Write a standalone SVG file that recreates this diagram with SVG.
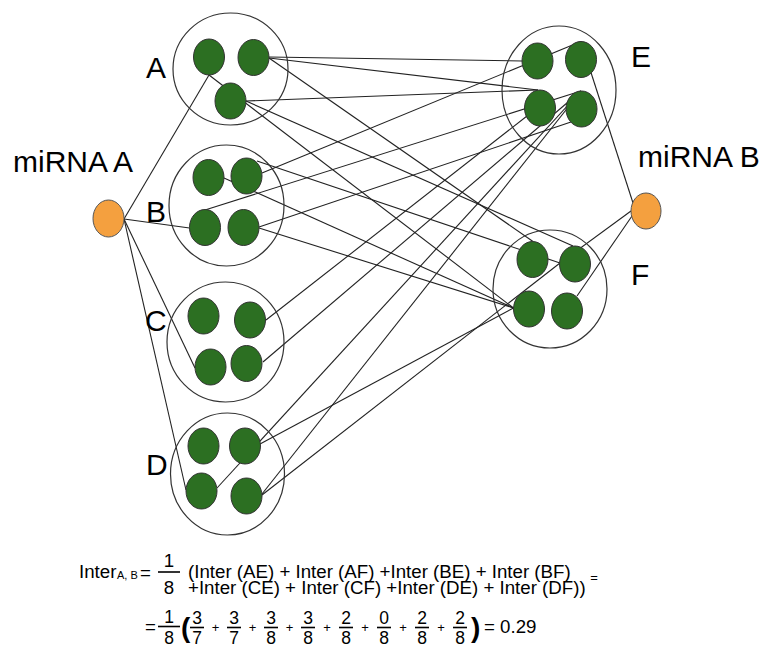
<svg xmlns="http://www.w3.org/2000/svg" width="769" height="645" viewBox="0 0 769 645">
  <style>
    .hub { fill: none; stroke: #333; stroke-width: 1.2; }
    .gene { fill: #2c6f22; stroke: #333; stroke-width: 1; }
    .mirna { fill: #f4a03f; stroke: #555; stroke-width: 1; }
    .edge { stroke: #222; stroke-width: 1.1; fill: none; }
    .lbl { font-family: "Liberation Sans", Arial, sans-serif; font-size: 30px; fill: #000; }
    .eq { font-family: "Liberation Sans", Arial, sans-serif; font-size: 18.7px; fill: #000; }
    .sm { font-family: "Liberation Sans", Arial, sans-serif; font-size: 11px; fill: #000; }
    .fr { font-family: "Liberation Sans", Arial, sans-serif; font-size: 17.5px; fill: #000; text-anchor: middle; }
    .fr1 { font-family: "Liberation Sans", Arial, sans-serif; font-size: 18.7px; fill: #000; text-anchor: middle; }
    .pl { font-family: "Liberation Sans", Arial, sans-serif; font-size: 13px; fill: #000; text-anchor: middle; }
    .par { font-family: "Liberation Sans", Arial, sans-serif; font-size: 28px; font-weight: bold; fill: #000; }
    .bar { stroke: #000; stroke-width: 1.6; }
  </style>

  <!-- connectors -->
  <g id="connectors">
    <!-- miRNA A to its targets -->
    <line class="edge" x1="124" y1="219" x2="209" y2="75"/>
    <line class="edge" x1="124" y1="219" x2="189.5" y2="228"/>
    <line class="edge" x1="124" y1="219" x2="195" y2="368"/>
    <line class="edge" x1="124" y1="219" x2="186" y2="490"/>
    <!-- miRNA B to its targets -->
    <line class="edge" x1="633" y1="203" x2="581" y2="41.5"/>
    <line class="edge" x1="631" y1="211" x2="560" y2="263"/>
    <line class="edge" x1="632" y1="216" x2="577" y2="296"/>
    <!-- A to E -->
    <line class="edge" x1="269" y1="57" x2="522" y2="61"/>
    <line class="edge" x1="269" y1="58" x2="538" y2="90"/>
    <line class="edge" x1="246" y1="101" x2="538" y2="90"/>
    <!-- A to F -->
    <line class="edge" x1="269" y1="58" x2="533" y2="241.5"/>
    <line class="edge" x1="209" y1="75" x2="513.5" y2="308"/>
    <line class="edge" x1="246" y1="101" x2="573" y2="246"/>
    <!-- B to E -->
    <line class="edge" x1="262" y1="173" x2="581" y2="41.5"/>
    <line class="edge" x1="205" y1="210" x2="581" y2="91"/>
    <line class="edge" x1="259" y1="227" x2="571" y2="122"/>
    <!-- B to F -->
    <line class="edge" x1="224" y1="178" x2="513.5" y2="308"/>
    <line class="edge" x1="257" y1="161" x2="560" y2="263"/>
    <line class="edge" x1="259" y1="228" x2="513.5" y2="308"/>
    <!-- C to E -->
    <line class="edge" x1="266" y1="320" x2="527" y2="116"/>
    <line class="edge" x1="263" y1="362" x2="581" y2="91"/>
    <!-- D to E -->
    <line class="edge" x1="217" y1="488" x2="581" y2="91"/>
    <line class="edge" x1="262" y1="494" x2="581" y2="91"/>
    <!-- D to F -->
    <line class="edge" x1="260" y1="444" x2="513.5" y2="308"/>
    <line class="edge" x1="262" y1="495" x2="560" y2="263"/>
  </g>

  <!-- miRNA nodes -->
  <g id="mirnaA">
    <ellipse class="mirna" cx="108.5" cy="218.5" rx="15.5" ry="18.5"/>
    <text class="lbl" x="13" y="172">miRNA A</text>
  </g>
  <g id="mirnaB">
    <ellipse class="mirna" cx="646" cy="211" rx="15" ry="18"/>
    <text class="lbl" x="638" y="167">miRNA B</text>
  </g>

  <!-- target clusters -->
  <g id="clusterA">
    <ellipse class="hub" cx="230.5" cy="69" rx="57.5" ry="56"/>
    <ellipse class="gene" cx="209" cy="57" rx="15.5" ry="18"/>
    <ellipse class="gene" cx="253.5" cy="57.5" rx="15.5" ry="18"/>
    <ellipse class="gene" cx="230.5" cy="101" rx="15.5" ry="18"/>
    <text class="lbl" x="146" y="78">A</text>
  </g>
  <g id="clusterB">
    <ellipse class="hub" cx="226.5" cy="205.5" rx="57.5" ry="60.5"/>
    <ellipse class="gene" cx="208.5" cy="177.5" rx="15.5" ry="18"/>
    <ellipse class="gene" cx="246.5" cy="176" rx="15.5" ry="18"/>
    <ellipse class="gene" cx="205" cy="227.5" rx="15.5" ry="18"/>
    <ellipse class="gene" cx="243.5" cy="227.5" rx="15.5" ry="18"/>
    <text class="lbl" x="146" y="222">B</text>
  </g>
  <g id="clusterC">
    <ellipse class="hub" cx="225.5" cy="342" rx="58.5" ry="60"/>
    <ellipse class="gene" cx="203.5" cy="316" rx="15.5" ry="18"/>
    <ellipse class="gene" cx="250" cy="320" rx="15.5" ry="18"/>
    <ellipse class="gene" cx="210.5" cy="367" rx="15.5" ry="18"/>
    <ellipse class="gene" cx="246.5" cy="363.5" rx="15.5" ry="18"/>
    <text class="lbl" x="145" y="331">C</text>
  </g>
  <g id="clusterD">
    <ellipse class="hub" cx="227.5" cy="474" rx="57" ry="61"/>
    <ellipse class="gene" cx="203.5" cy="446" rx="15.5" ry="18"/>
    <ellipse class="gene" cx="245" cy="446" rx="15.5" ry="18"/>
    <ellipse class="gene" cx="201.5" cy="491" rx="15.5" ry="18"/>
    <ellipse class="gene" cx="246.5" cy="496" rx="15.5" ry="18"/>
    <text class="lbl" x="146" y="475">D</text>
  </g>
  <g id="clusterE">
    <ellipse class="hub" cx="559" cy="90" rx="57" ry="64"/>
    <ellipse class="gene" cx="537.5" cy="61" rx="15.5" ry="18"/>
    <ellipse class="gene" cx="581" cy="59.5" rx="15.5" ry="18"/>
    <ellipse class="gene" cx="540" cy="108" rx="15.5" ry="18"/>
    <ellipse class="gene" cx="581.5" cy="109" rx="15.5" ry="18"/>
    <text class="lbl" x="631" y="67">E</text>
  </g>
  <g id="clusterF">
    <ellipse class="hub" cx="550" cy="289" rx="57" ry="59"/>
    <ellipse class="gene" cx="532.5" cy="259.5" rx="15.5" ry="18"/>
    <ellipse class="gene" cx="575" cy="264" rx="15.5" ry="18"/>
    <ellipse class="gene" cx="529" cy="309" rx="15.5" ry="18"/>
    <ellipse class="gene" cx="567" cy="311" rx="15.5" ry="18"/>
    <text class="lbl" x="631" y="285">F</text>
  </g>

  <!-- interaction score formula -->
  <g id="formula">
    <text class="eq" x="79" y="578">Inter</text>
    <text class="sm" x="117" y="579">A, B</text>
    <text class="eq" x="140" y="579">=</text>
    <text class="fr1" x="169" y="567">1</text>
    <line class="bar" x1="158" y1="572" x2="180" y2="572"/>
    <text class="fr1" x="169" y="593.5">8</text>
    <text class="eq" x="188" y="578">(Inter (AE) + Inter (AF) +Inter (BE) + Inter (BF)</text>
    <text class="pl" x="594" y="582">=</text>
    <text class="eq" x="188" y="594">+Inter (CE) + Inter (CF) +Inter (DE) + Inter (DF))</text>

    <text class="eq" x="145" y="633">=</text>
    <text class="fr" x="169" y="623">1</text>
    <line class="bar" x1="158" y1="626.5" x2="180" y2="626.5"/>
    <text class="fr" x="169" y="644">8</text>
    <text class="par" x="181" y="637">(</text>

    <text class="fr" x="197" y="624">3</text><line class="bar" x1="190" y1="627.5" x2="204" y2="627.5"/><text class="fr" x="197" y="643.5">7</text>
    <text class="pl" x="215.5" y="632">+</text>
    <text class="fr" x="234" y="624">3</text><line class="bar" x1="227" y1="627.5" x2="241" y2="627.5"/><text class="fr" x="234" y="643.5">7</text>
    <text class="pl" x="252.5" y="632">+</text>
    <text class="fr" x="271" y="624">3</text><line class="bar" x1="264" y1="627.5" x2="278" y2="627.5"/><text class="fr" x="271" y="643.5">8</text>
    <text class="pl" x="289.5" y="632">+</text>
    <text class="fr" x="308" y="624">3</text><line class="bar" x1="301" y1="627.5" x2="315" y2="627.5"/><text class="fr" x="308" y="643.5">8</text>
    <text class="pl" x="327" y="632">+</text>
    <text class="fr" x="346" y="624">2</text><line class="bar" x1="339" y1="627.5" x2="353" y2="627.5"/><text class="fr" x="346" y="643.5">8</text>
    <text class="pl" x="365" y="632">+</text>
    <text class="fr" x="384" y="624">0</text><line class="bar" x1="377" y1="627.5" x2="391" y2="627.5"/><text class="fr" x="384" y="643.5">8</text>
    <text class="pl" x="403" y="632">+</text>
    <text class="fr" x="422" y="624">2</text><line class="bar" x1="415" y1="627.5" x2="429" y2="627.5"/><text class="fr" x="422" y="643.5">8</text>
    <text class="pl" x="441" y="632">+</text>
    <text class="fr" x="460" y="624">2</text><line class="bar" x1="453" y1="627.5" x2="467" y2="627.5"/><text class="fr" x="460" y="643.5">8</text>
    <text class="par" x="471" y="637">)</text>
    <text class="eq" x="484" y="633">= 0.29</text>
  </g>
</svg>
